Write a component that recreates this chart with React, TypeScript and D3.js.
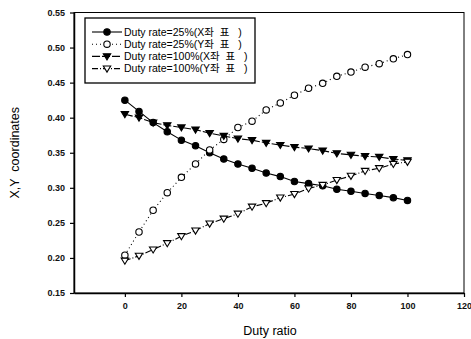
import React, { useEffect, useRef } from "react";
import * as d3 from "d3";

const duty = [0, 5, 10, 15, 20, 25, 30, 35, 40, 45, 50, 55, 60, 65, 70, 75, 80, 85, 90, 95, 100];
const x25 = [0.425, 0.409, 0.393, 0.38, 0.368, 0.36, 0.35, 0.341, 0.334, 0.328, 0.321, 0.316, 0.309, 0.306, 0.303, 0.298, 0.295, 0.292, 0.289, 0.286, 0.282];
const y25 = [0.204, 0.237, 0.268, 0.293, 0.315, 0.334, 0.354, 0.369, 0.386, 0.395, 0.411, 0.421, 0.432, 0.442, 0.449, 0.459, 0.465, 0.472, 0.477, 0.484, 0.49];
const x100 = [0.405, 0.4, 0.393, 0.389, 0.386, 0.383, 0.378, 0.374, 0.37, 0.368, 0.364, 0.361, 0.358, 0.356, 0.353, 0.349, 0.347, 0.345, 0.344, 0.341, 0.339];
const y100 = [0.196, 0.203, 0.212, 0.221, 0.231, 0.239, 0.249, 0.256, 0.263, 0.273, 0.278, 0.286, 0.291, 0.299, 0.304, 0.311, 0.317, 0.324, 0.328, 0.334, 0.337];
const seriesNames = [
  "Duty rate=25%(X좌  표   )",
  "Duty rate=25%(Y좌  표   )",
  "Duty rate=100%(X좌  표   )",
  "Duty rate=100%(Y좌  표   )",
];
const xTicks = [0, 20, 40, 60, 80, 100, 120];
const yTicks = [0.15, 0.2, 0.25, 0.3, 0.35, 0.4, 0.45, 0.5, 0.55];

const W = 471;
const H = 339;
const margin = { left: 74, right: 7, top: 12.5, bottom: 46 };

type Marker = "circle" | "circleOpen" | "tri" | "triOpen";

const seriesList: { values: number[]; marker: Marker; dash: string | null }[] = [
  { values: x25, marker: "circle", dash: null },
  { values: y25, marker: "circleOpen", dash: "1,3" },
  { values: x100, marker: "tri", dash: "8,2" },
  { values: y100, marker: "triOpen", dash: "6,2,1,2" },
];

function drawMarker(g: d3.Selection<SVGGElement, unknown, null, undefined>, kind: Marker, cx: number, cy: number) {
  if (kind === "circle" || kind === "circleOpen") {
    g.append("circle")
      .attr("cx", cx)
      .attr("cy", cy)
      .attr("r", 3.2)
      .attr("fill", kind === "circle" ? "#000" : "#fff")
      .attr("stroke", "#000")
      .attr("stroke-width", 1.1);
  } else {
    const s = 3.7;
    g.append("path")
      .attr("d", `M${cx - s},${cy - s * 0.7}L${cx + s},${cy - s * 0.7}L${cx},${cy + s * 0.95}Z`)
      .attr("fill", kind === "tri" ? "#000" : "#fff")
      .attr("stroke", "#000")
      .attr("stroke-width", 1.1);
  }
}

export default function App() {
  const ref = useRef<SVGSVGElement>(null);

  useEffect(() => {
    const svg = d3.select(ref.current);
    svg.selectAll("*").remove();
    const font = "'Liberation Sans', Arial, 'Noto Sans CJK KR', sans-serif";

    const x = d3.scaleLinear().domain([-18, 120]).range([margin.left, W - margin.right]);
    const y = d3.scaleLinear().domain([0.15, 0.55]).range([H - margin.bottom, margin.top]);

    // frame
    svg
      .append("rect")
      .attr("x", margin.left)
      .attr("y", margin.top)
      .attr("width", W - margin.right - margin.left)
      .attr("height", H - margin.bottom - margin.top)
      .attr("fill", "none")
      .attr("stroke", "#000")
      .attr("stroke-width", 1);

    const xAxis = svg
      .append("g")
      .attr("transform", `translate(0,${H - margin.bottom})`)
      .call(d3.axisBottom(x).tickValues(xTicks).tickSize(4).tickPadding(6).tickSizeOuter(0));
    const yAxis = svg
      .append("g")
      .attr("transform", `translate(${margin.left},0)`)
      .call(
        d3.axisLeft(y).tickValues(yTicks).tickSize(4).tickPadding(5).tickSizeOuter(0).tickFormat(d3.format(".2f"))
      );
    [xAxis, yAxis].forEach((a) => {
      a.selectAll("text").attr("font-family", font).attr("font-size", 9).attr("font-weight", "bold").attr("fill", "#111");
      a.select(".domain").attr("stroke-width", 1.5);
      a.selectAll(".tick line").attr("stroke-width", 1.2);
    });

    svg
      .append("text")
      .attr("x", 270)
      .attr("y", 335)
      .attr("text-anchor", "middle")
      .attr("font-family", font)
      .attr("font-size", 12.5)
      .text("Duty ratio");

    svg
      .append("text")
      .attr("transform", `translate(19,${(margin.top + H - margin.bottom) / 2}) rotate(-90)`)
      .attr("text-anchor", "middle")
      .attr("font-family", font)
      .attr("font-size", 12.5)
      .attr("xml:space", "preserve")
      .text("X,Y  coordinates");

    const plot = svg.append("g");
    seriesList.forEach((s) => {
      const line = d3
        .line<number>()
        .x((_, i) => x(duty[i]))
        .y((d) => y(d));
      plot
        .append("path")
        .attr("d", line(s.values))
        .attr("fill", "none")
        .attr("stroke", "#000")
        .attr("stroke-width", 1.1)
        .attr("stroke-dasharray", s.dash);
    });
    seriesList.forEach((s) => {
      const mg = plot.append("g");
      s.values.forEach((v, i) => drawMarker(mg, s.marker, x(duty[i]), y(v)));
    });

    // legend
    const lg = svg.append("g");
    lg.append("rect")
      .attr("x", 85)
      .attr("y", 18)
      .attr("width", 170)
      .attr("height", 65)
      .attr("fill", "#fff")
      .attr("stroke", "#000")
      .attr("stroke-width", 1.3);
    seriesList.forEach((s, i) => {
      const ly = 32 + i * 12.2;
      lg.append("line")
        .attr("x1", 92)
        .attr("x2", 122)
        .attr("y1", ly)
        .attr("y2", ly)
        .attr("stroke", "#000")
        .attr("stroke-width", 1.1)
        .attr("stroke-dasharray", s.dash);
      const mg = lg.append("g");
      drawMarker(mg, s.marker, 107, ly);
      lg.append("text")
        .attr("x", 124)
        .attr("y", ly + 3.7)
        .attr("font-family", font)
        .attr("font-size", 10.5)
        .attr("xml:space", "preserve")
        .text(seriesNames[i]);
    });
  }, []);

  return (
    <svg
      ref={ref}
      width={W}
      height={H}
      style={{ position: "absolute", left: 0, top: 0, background: "#fff" }}
    />
  );
}
